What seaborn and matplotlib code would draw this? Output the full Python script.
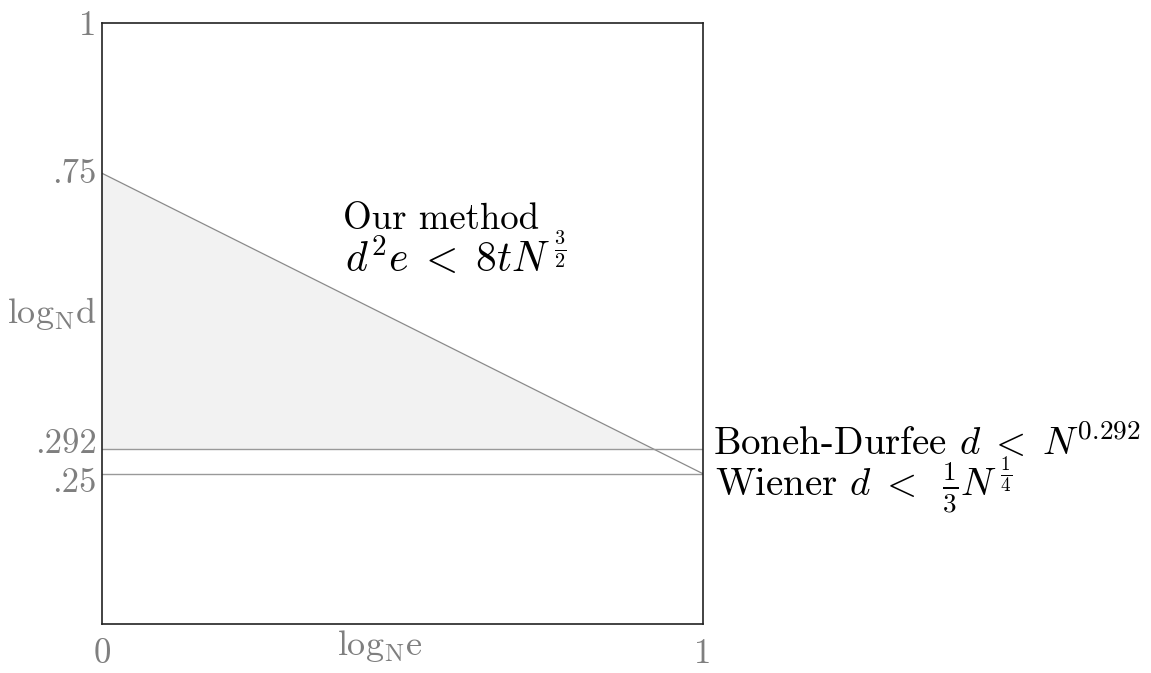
import numpy as np
import pandas as pd
import matplotlib
matplotlib.use("Agg")
import matplotlib.pyplot as plt
import matplotlib.transforms as mtransforms
import seaborn as sns

# ---- data ----
method_x = [0.0, 1.0]
method_y = [0.75, 0.25]
boneh_y = 0.292
wiener_y = 0.25
xticks = [0, 1]
xticklabels = ["0", "1"]
yticks = [1, 0.75, 0.292, 0.25]
yticklabels = ["1", ".75", ".292", ".25"]

sns.set_style("white")
plt.rcParams["font.family"] = ["cmr10", "DejaVu Serif"]
plt.rcParams["mathtext.fontset"] = "cm"
plt.rcParams["axes.unicode_minus"] = False
plt.rcParams["axes.formatter.use_mathtext"] = True

fig = plt.figure(figsize=(11.51, 6.73), dpi=100)
ax = fig.add_axes([102 / 1151, 49 / 673, 601 / 1151, 601 / 673])

line_color = "#8a8a8a"
df_m = pd.DataFrame({"x": method_x, "y": method_y})
df_b = pd.DataFrame({"x": [0.0, 1.0], "y": [boneh_y, boneh_y]})
df_w = pd.DataFrame({"x": [0.0, 1.0], "y": [wiener_y, wiener_y]})

# fill region under the method line and above Boneh-Durfee bound
slope = (method_y[1] - method_y[0]) / (method_x[1] - method_x[0])
x_cross = method_x[0] + (boneh_y - method_y[0]) / slope
xs = np.array([method_x[0], x_cross])
ax.fill_between(xs, boneh_y, method_y[0] + slope * (xs - method_x[0]),
                color="#f2f2f2", lw=0, zorder=1)

sns.lineplot(data=df_m, x="x", y="y", ax=ax, color=line_color, lw=0.9, zorder=2)
sns.lineplot(data=df_b, x="x", y="y", ax=ax, color="#999999", lw=1.0, zorder=2)
sns.lineplot(data=df_w, x="x", y="y", ax=ax, color="#999999", lw=1.0, zorder=2)

ax.set_xlim(0, 1)
ax.set_ylim(0, 1)
ax.set_xticks(xticks)
ax.set_xticklabels(xticklabels)
ax.set_yticks(yticks)
ax.set_yticklabels(yticklabels)
ax.tick_params(axis="both", length=0, labelsize=25, colors="#7f7f7f")
ax.tick_params(axis="x", pad=10)
ax.tick_params(axis="y", pad=4)
ax.set_xlabel("")
ax.set_ylabel("")
for s in ax.spines.values():
    s.set_color("#222222")
    s.set_linewidth(1.2)

# nudge the crowded y tick labels apart (pixel offsets)
offsets = {"1": 0, ".75": 3, ".292": 8, ".25": -6}
for lab in ax.get_yticklabels():
    dy = offsets.get(lab.get_text(), 0)
    lab.set_transform(lab.get_transform() +
                      mtransforms.ScaledTranslation(0, dy / 100, fig.dpi_scale_trans))

# axis labels in the reference positions
ax.text(0.463, -0.0516, r"$\mathrm{log}_{\mathrm{N}}\mathrm{e}$", transform=ax.transAxes,
        ha="center", va="baseline", fontsize=26, color="#7f7f7f")
ax.text(-0.0083, 0.501, r"$\mathrm{log}_{\mathrm{N}}\mathrm{d}$", transform=ax.transAxes,
        ha="right", va="baseline", fontsize=26, color="#7f7f7f")

ax.text(0.401, 0.657, "Our method", transform=ax.transAxes, ha="left", va="baseline",
        fontsize=26.5, color="black")
ax.text(0.404, 0.586, r"$d^2e\;<\;8tN^{\,\frac{3}{2}}$", transform=ax.transAxes,
        ha="left", va="baseline", fontsize=30, color="black")

ax.text(1.0166, 0.2812, r"Boneh-Durfee $d\;<\;N^{0.292}$", transform=ax.transAxes,
        ha="left", va="baseline", fontsize=28, color="black", clip_on=False)
ax.text(1.02, 0.213, r"Wiener $d\;<\;\;\frac{1}{3}N^{\,\frac{1}{4}}$", transform=ax.transAxes,
        ha="left", va="baseline", fontsize=28, color="black", clip_on=False)

fig.savefig("out.png", dpi=100)
